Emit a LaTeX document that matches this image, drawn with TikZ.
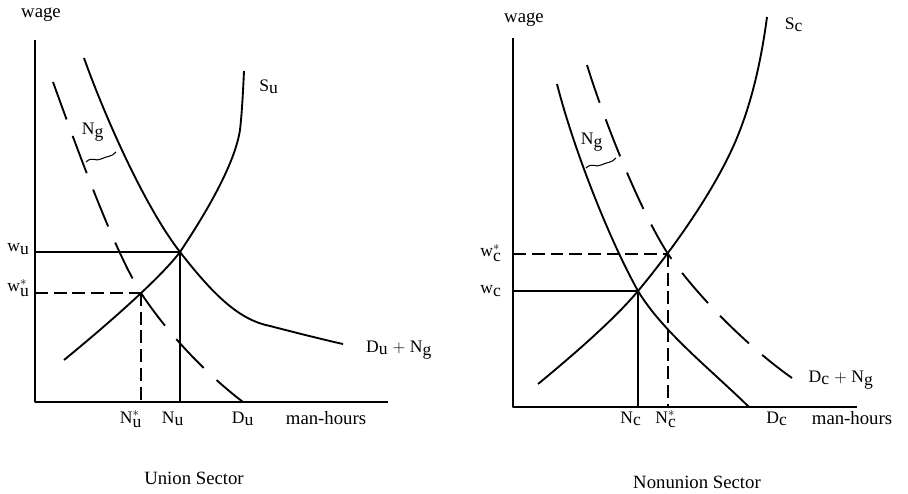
\documentclass[tikz,border=0pt]{standalone}
\usepackage{fontspec}
\setmainfont{Liberation Serif}
\newcommand{\sublab}[2]{$\textnormal{#1}_{\textnormal{#2}}$}
\newcommand{\starlab}[2]{$\textnormal{#1}^{*}_{\textnormal{#2}}$}
\tikzset{
    curve/.style={line width=1.6pt},
    dashcurve/.style={line width=1.6pt, dash pattern=on 34pt off 15pt},
    guide/.style={line width=1.3pt},
    dashguide/.style={line width=1.3pt, dash pattern=on 11pt off 5pt},
    squig/.style={line width=0.9pt},
    lbl/.style={font=\fontsize{15}{17}\selectfont, inner sep=1pt},
    axlbl/.style={font=\fontsize{16}{18}\selectfont, inner sep=1pt},
}
\begin{document}
\begin{tikzpicture}[x=0.03cm, y=0.03cm, line join=round]
    \useasboundingbox (0,0) rectangle (908,493);

    % Left diagram
    \begin{scope}[shift={(35,91)}]
        \coordinate (Ou) at (0,0);
        \coordinate (Yu) at (0,362);
        \coordinate (Xu) at (353,0);
        \coordinate (Eu) at (145,150);
        \coordinate (Esu) at (106,109);
        \draw[curve] (Yu) -- (Ou) -- (Xu);
        % D_u + N_g
        \draw[curve] (49,344) .. controls (70,285) and (110,195) .. (Eu)
            .. controls (180,105) and (205,82) .. (235,76)
            .. controls (262,69) and (290,62) .. (308,58);
        % S_u
        \draw[curve] (29,42) .. controls (90,92) and (130,130) .. (Eu)
            .. controls (175,195) and (200,240) .. (205,272)
            .. controls (207,290) and (208,310) .. (209,331);
        % D_u
        \draw[dashcurve] (18,320) .. controls (45,245) and (80,150) .. (Esu)
            .. controls (135,65) and (175,25) .. (208,0);
        \draw[guide] (Ou |- Eu) -- (Eu) -- (Eu |- Ou);
        \draw[dashguide] (Ou |- Esu) -- (Esu);
        \draw[dashguide] (Esu) -- (Esu |- Ou);
        \draw[squig] (51,240) .. controls (57,246) and (61,240) .. (66,243) .. controls (72,246) and (77,245) .. (81,250);
        \node[axlbl] (wageu) at (6,387) {wage};
        \node[lbl] (Su) at (234,315) {\sublab{S}{u}};
        \node[lbl] (Ngu) at (58,270) {\sublab{N}{g}};
        \node[lbl, anchor=west] (wu) at (-29,153) {\sublab{w}{u}};
        \node[lbl, anchor=west] (wsu) at (-29,114) {\starlab{w}{u}};
        \node[lbl] (Nsu) at (96,-17) {\starlab{N}{u}};
        \node[lbl] (Nu) at (138,-17) {\sublab{N}{u}};
        \node[lbl] (Du) at (208,-17) {\sublab{D}{u}};
        \node[axlbl] (hoursu) at (291,-16) {man-hours};
        \node[lbl] (DNu) at (364,52) {\sublab{D}{u} $+$ \sublab{N}{g}};
        \node[axlbl] (union) at (159,-76) {Union Sector};
    \end{scope}

    % Right diagram
    \begin{scope}[shift={(513,86)}]
        \coordinate (Oc) at (0,0);
        \coordinate (Yc) at (0,369);
        \coordinate (Xc) at (344,0);
        \coordinate (Ec) at (125,116);
        \coordinate (Esc) at (155,153);
        \draw[curve] (Yc) -- (Oc) -- (Xc);
        % S_c
        \draw[curve] (25,23) .. controls (70,60) and (105,92) .. (Ec)
            .. controls (150,146) and (195,205) .. (220,260)
            .. controls (238,300) and (248,345) .. (254,390);
        % D_c
        \draw[curve] (44,323) .. controls (60,260) and (95,170) .. (Ec)
            .. controls (150,75) and (195,40) .. (236,0);
        % D_c + N_g
        \draw[dashcurve] (74,342) .. controls (90,290) and (125,200) .. (Esc)
            .. controls (185,110) and (235,60) .. (279,29);
        \draw[guide] (Oc |- Ec) -- (Ec) -- (Ec |- Oc);
        \draw[dashguide] (Oc |- Esc) -- (Esc);
        \draw[dashguide] (Esc) -- (Esc |- Oc);
        \draw[squig] (73,239) .. controls (79,245) and (83,239) .. (88,242) .. controls (94,245) and (99,244) .. (103,249);
        \node[axlbl] (wagec) at (11,387) {wage};
        \node[lbl] (Sc) at (281,382) {\sublab{S}{c}};
        \node[lbl] (Ngc) at (79,265) {\sublab{N}{g}};
        \node[lbl, anchor=west] (wsc) at (-34,154) {\starlab{w}{c}};
        \node[lbl, anchor=west] (wc) at (-34,116) {\sublab{w}{c}};
        \node[lbl] (Nc) at (118,-12) {\sublab{N}{c}};
        \node[lbl] (Nsc) at (153,-12) {\starlab{N}{c}};
        \node[lbl] (Dc) at (264,-12) {\sublab{D}{c}};
        \node[axlbl] (hoursc) at (339,-11) {man-hours};
        \node[lbl] (DNc) at (328,27) {\sublab{D}{c} $+$ \sublab{N}{g}};
        \node[axlbl] (nonunion) at (184,-75) {Nonunion Sector};
    \end{scope}
\end{tikzpicture}
\end{document}
